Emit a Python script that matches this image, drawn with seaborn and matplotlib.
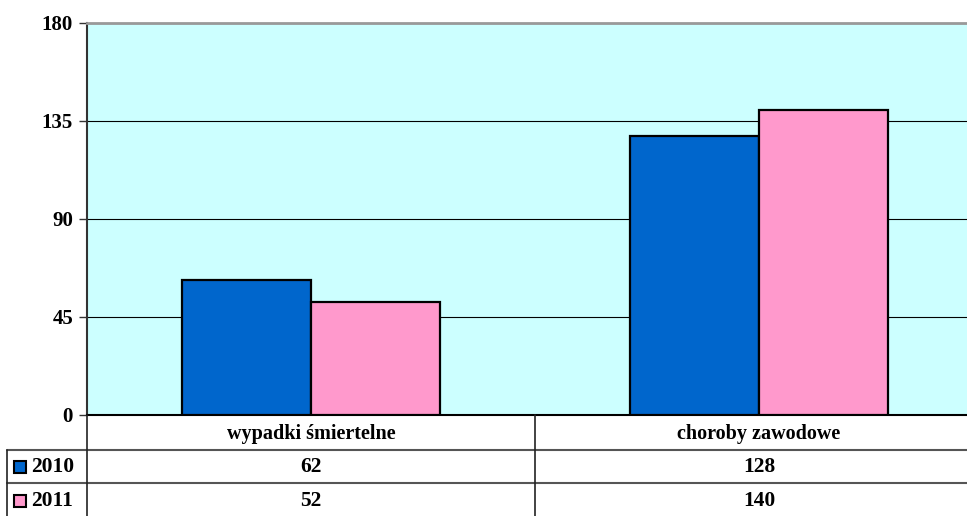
import matplotlib
matplotlib.use("Agg")
import matplotlib.pyplot as plt
import seaborn as sns
import pandas as pd

# data
categories = ["wypadki śmiertelne", "choroby zawodowe"]
years = ["2010", "2011"]
values_2010 = [62, 128]
values_2011 = [52, 140]
colors = ["#0066CC", "#FF99CC"]

df = pd.DataFrame({
    "kategoria": categories * 2,
    "rok": [years[0]] * 2 + [years[1]] * 2,
    "liczba": values_2010 + values_2011,
})

sns.set_style("white")
plt.rcParams["font.family"] = ["Liberation Serif", "DejaVu Serif"]
plt.rcParams["font.weight"] = "bold"
plt.rcParams["text.color"] = "black"
plt.rcParams["ytick.color"] = "black"

W, H = 967, 516
fig = plt.figure(figsize=(W / 100, H / 100), dpi=100)

# axes extends a bit past the right edge like the original
ax_left, ax_right, ax_top, ax_bot = 87, 983, 23, 415
ax = fig.add_axes([ax_left / W, 1 - ax_bot / H, (ax_right - ax_left) / W, (ax_bot - ax_top) / H])
ax.set_facecolor("#CCFFFF")

sns.barplot(data=df, x="kategoria", y="liczba", hue="rok", palette=colors, saturation=1,
            width=0.576, edgecolor="black", linewidth=1.6, legend=False, ax=ax, zorder=3)

ax.set_ylim(0, 180)
ax.set_xlim(-0.5, 1.5)
ax.set_yticks([0, 45, 90, 135, 180])
ax.set_yticklabels(["0", "45", "90", "135", "180"], fontsize=15, fontweight="bold", color="black")
ax.yaxis.grid(True, color="black", linewidth=0.8, zorder=0)
ax.set_axisbelow(True)
ax.tick_params(axis="y", direction="out", length=6, width=1, color="#333333", pad=4, left=True)
ax.set_xticks([])
ax.set_xlabel("")
ax.set_ylabel("")
for s in ["top", "right"]:
    ax.spines[s].set_color("#999999")
    ax.spines[s].set_linewidth(2)
ax.spines["left"].set_color("#333333")
ax.spines["left"].set_linewidth(1.5)
ax.spines["bottom"].set_color("black")
ax.spines["bottom"].set_linewidth(1.5)


# data table under the chart, in pixel coordinates
def fx(px):
    return px / W


def fy(py):
    return 1 - py / H


def hline(x0, x1, y, c="#555555", lw=1.5):
    fig.add_artist(plt.Line2D([fx(x0), fx(x1)], [fy(y), fy(y)], color=c, linewidth=lw))


def vline(x, y0, y1, c="#222222", lw=1.2):
    fig.add_artist(plt.Line2D([fx(x), fx(x)], [fy(y0), fy(y1)], color=c, linewidth=lw))


hline(7, W, 450)
hline(7, W, 483)
vline(87, 415, 516)
vline(535, 415, 516)
vline(7, 450, 516)

col_centers = [311, 759]
for cx, cat in zip(col_centers, categories):
    fig.text(fx(cx), fy(434), cat, ha="center", va="center", fontsize=14.5, fontweight="bold")

row_y = [467, 501]
for ry, yr, vals, col in zip(row_y, years, [values_2010, values_2011], colors):
    fig.add_artist(plt.Rectangle((fx(14), fy(ry + 6)), 12 / W, 12 / H, facecolor=col,
                                 edgecolor="black", linewidth=1.5))
    fig.text(fx(31), fy(ry), yr, ha="left", va="center", fontsize=15.5, fontweight="bold")
    for cx, v in zip(col_centers, vals):
        fig.text(fx(cx), fy(ry), str(v), ha="center", va="center", fontsize=15.5, fontweight="bold")

fig.savefig("out.png", dpi=100)
